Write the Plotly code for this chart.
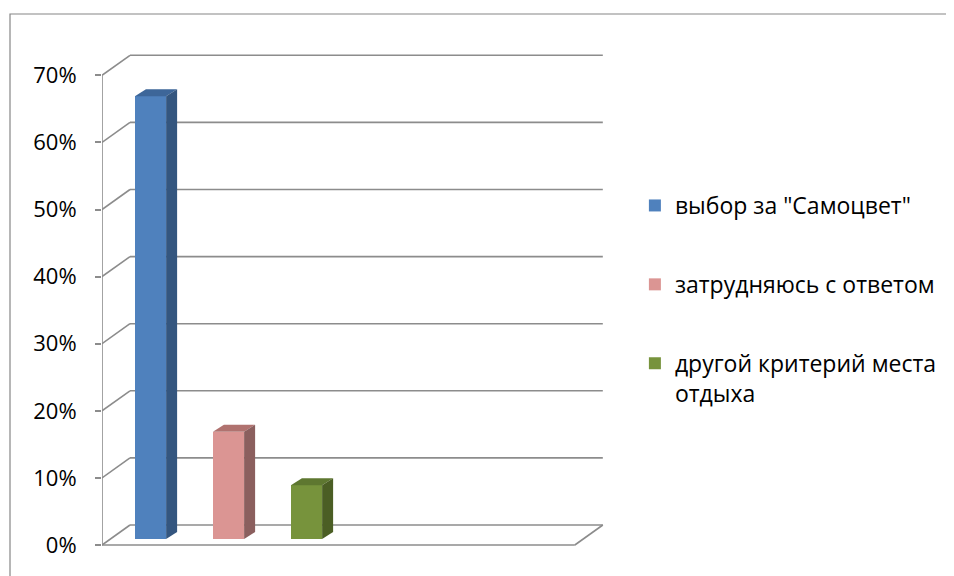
import plotly.graph_objects as go

# ---- data ----
categories = ['выбор за "Самоцвет"', 'затрудняюсь с ответом', 'другой критерий места<br>отдыха']
values = [0.66, 0.16, 0.08]
tick_vals = [0, 0.1, 0.2, 0.3, 0.4, 0.5, 0.6, 0.7]

# ---- styles ----
front_colors = ['#4F81BD', '#DB9593', '#77933C']
top_colors = ['#3D6699', '#B0726F', '#5E7730']
side_colors = ['#34567F', '#8B5F5E', '#4B5E24']
grid_color = '#8C8C8C'

# 3D geometry (axis units)
X_FRONT = -0.622      # front-left corner of walls
X_FLOOR_END = 5.44    # front-right corner of floor
WALL_DX, WALL_DY = 0.359, 0.0298   # depth offset of back wall
BAR_BASE = 0.0089     # bar plane offset above the front floor
BAR_W = 0.4
BAR_DX, BAR_DY = 0.141, 0.0104
positions = list(range(len(values)))

fig = go.Figure()

# front faces
for i, (c, v) in enumerate(zip(categories, values)):
    fig.add_trace(go.Bar(
        x=[positions[i]], y=[v], base=[BAR_BASE], width=[BAR_W],
        marker=dict(color=front_colors[i], line=dict(width=0)),
        name=c, legendgroup=str(i), showlegend=True, hoverinfo='skip'))

# side & top faces
for i, v in enumerate(values):
    p = positions[i]
    xl, xr = p - BAR_W / 2, p + BAR_W / 2
    top = v + BAR_BASE
    fig.add_trace(go.Scatter(
        x=[xl, xr, xr + BAR_DX, xl + BAR_DX, xl],
        y=[top, top, top + BAR_DY, top + BAR_DY, top],
        fill='toself', fillcolor=top_colors[i], mode='lines',
        line=dict(width=0, color=top_colors[i]), showlegend=False, hoverinfo='skip'))
    fig.add_trace(go.Scatter(
        x=[xr, xr + BAR_DX, xr + BAR_DX, xr, xr],
        y=[BAR_BASE, BAR_BASE + BAR_DY, top + BAR_DY, top, BAR_BASE],
        fill='toself', fillcolor=side_colors[i], mode='lines',
        line=dict(width=0, color=side_colors[i]), showlegend=False, hoverinfo='skip'))

shapes = []
line_style = dict(color=grid_color, width=1.6)
for t in tick_vals:
    # side wall diagonal
    shapes.append(dict(type='line', xref='x', yref='y', layer='below',
                       x0=X_FRONT, y0=t, x1=X_FRONT + WALL_DX, y1=t + WALL_DY, line=line_style))
    # back wall gridline
    shapes.append(dict(type='line', xref='x', yref='y', layer='below',
                       x0=X_FRONT + WALL_DX, y0=t + WALL_DY, x1=X_FLOOR_END + WALL_DX, y1=t + WALL_DY,
                       line=line_style))
# front vertical axis
shapes.append(dict(type='line', xref='x', yref='y', layer='below',
                   x0=X_FRONT, y0=0, x1=X_FRONT, y1=tick_vals[-1], line=line_style))
# floor front edge and right edge
shapes.append(dict(type='line', xref='x', yref='y', layer='below',
                   x0=X_FRONT, y0=0, x1=X_FLOOR_END, y1=0, line=line_style))
shapes.append(dict(type='line', xref='x', yref='y', layer='below',
                   x0=X_FLOOR_END, y0=0, x1=X_FLOOR_END + WALL_DX, y1=WALL_DY, line=line_style))
# outer chart border
shapes.append(dict(type='rect', xref='paper', yref='paper', layer='below',
                   x0=-0.1811, y0=-1.0, x1=2.0, y1=1.072,
                   line=dict(color='#868686', width=1.2), fillcolor='rgba(0,0,0,0)'))

fig.update_layout(
    width=954, height=576,
    margin=dict(l=94, r=352, t=42, b=34),
    paper_bgcolor='white', plot_bgcolor='white',
    font=dict(family='Open Sans, Liberation Sans, sans-serif', size=22, color='#000000'),
    bargap=0,
    shapes=shapes,
    showlegend=True,
    legend=dict(x=1.049, y=0.732, xanchor='left', yanchor='top',
                font=dict(size=23, color='#000000'),
                traceorder='grouped', tracegroupgap=46, valign='top',
                itemwidth=30, bgcolor='rgba(0,0,0,0)'),
    xaxis=dict(range=[X_FRONT, 5.891], showgrid=False, zeroline=False,
               showticklabels=False, showline=False, ticks=''),
    yaxis=dict(range=[-0.00745, 0.7377], tickvals=tick_vals, tickformat='.0%',
               showgrid=False, zeroline=False, showline=False,
               ticks='outside', ticklen=6, tickcolor=grid_color, tickwidth=1.6,
               ticklabelstandoff=14, tickfont=dict(size=22)),
)

fig.write_html('out.html')
